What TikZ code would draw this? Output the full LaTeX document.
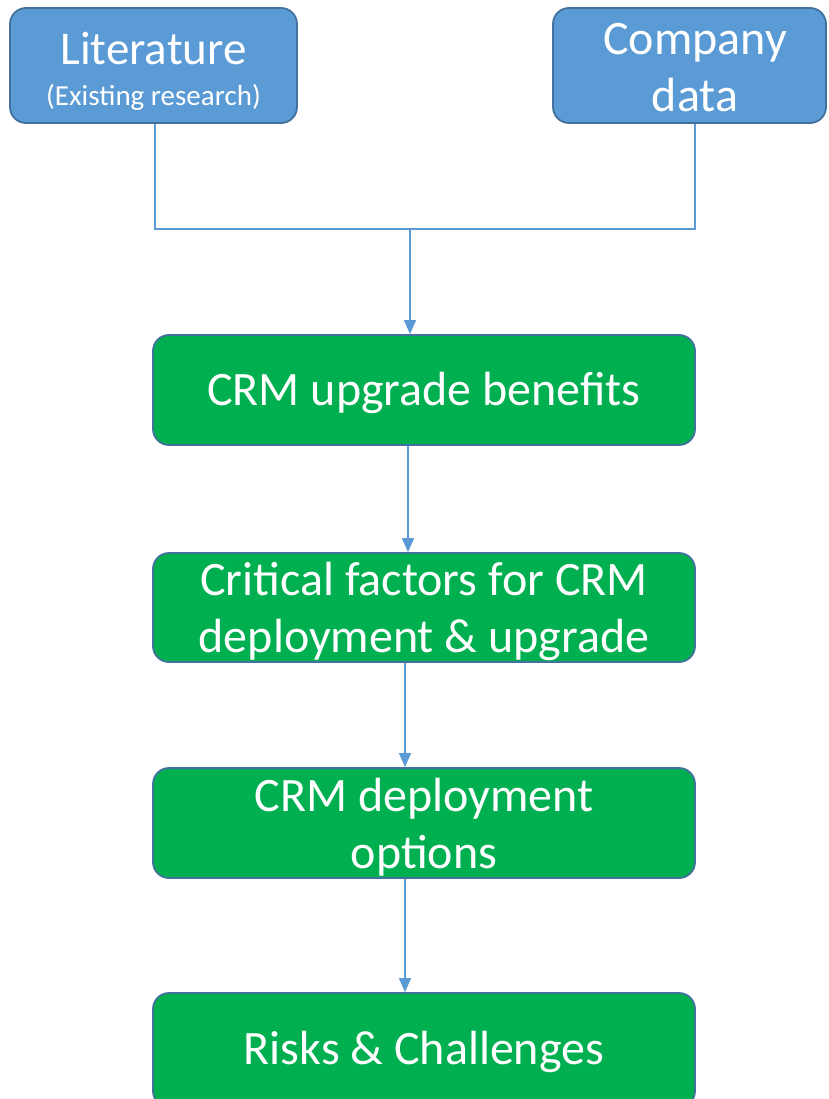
\documentclass[tikz,border=0pt]{standalone}
\usepackage{fontspec}
\setmainfont{Carlito}
\usetikzlibrary{arrows.meta}
\definecolor{boxblue}{HTML}{5B9BD5}
\definecolor{boxgreen}{HTML}{00B050}
\definecolor{edgeblue}{HTML}{41719C}
\begin{document}
\begin{tikzpicture}[x=1pt,y=-1pt,
  srcbox/.style={draw=edgeblue, line width=1.8pt, fill=boxblue, rounded corners=16pt, inner sep=0pt},
  stagebox/.style={draw=edgeblue, line width=1.8pt, fill=boxgreen, rounded corners=16pt,
    inner sep=0pt, minimum width=542pt},
  boxtext/.style={text=white, align=center, inner sep=0pt},
  bigtext/.style={boxtext, font=\fontsize{48}{57}\selectfont},
  link/.style={draw=boxblue, line width=1.3pt},
  arrowlink/.style={link, -{Triangle[width=12pt,length=14pt]}}
]
\useasboundingbox (0,0) rectangle (828,1099);
\node[srcbox, minimum width=287pt, minimum height=115pt] (lit) at (153.5,65.5) {};
\node[boxtext, font=\fontsize{47}{41}\selectfont] (littext) at (153.5,71)
  {Literature\\{\fontsize{29}{41}\selectfont (Existing research)}};
\node[srcbox, minimum width=273pt, minimum height=115pt] (comp) at (689.5,65.5) {};
\node[bigtext] (comptext) at (695,68) {Company\\data};
\node[stagebox, minimum height=110pt] (b1) at (424,390) {};
\node[bigtext] (t1) at (424,393) {CRM upgrade benefits};
\node[stagebox, minimum height=109pt] (b2) at (424,607.5) {};
\node[bigtext] (t2) at (424,611) {Critical factors for CRM\\deployment \& upgrade};
\node[stagebox, minimum height=110pt] (b3) at (424,823) {};
\node[bigtext] (t3) at (424,827) {CRM deployment\\options};
\node[stagebox, minimum height=114pt] (b4) at (424,1050) {};
\node[bigtext] (t4) at (424,1052) {Risks \& Challenges};
\coordinate (join) at (410,229);
\draw[link] ([xshift=1.5pt]lit.south) |- (join) -| ([xshift=5.5pt]comp.south);
\draw[arrowlink] (join) -- (join |- b1.north);
\draw[arrowlink] ([xshift=-16pt]b1.south) -- ([xshift=-16pt]b2.north);
\draw[arrowlink] ([xshift=-19pt]b2.south) -- ([xshift=-19pt]b3.north);
\draw[arrowlink] ([xshift=-19pt]b3.south) -- ([xshift=-19pt]b4.north);
\end{tikzpicture}
\end{document}
